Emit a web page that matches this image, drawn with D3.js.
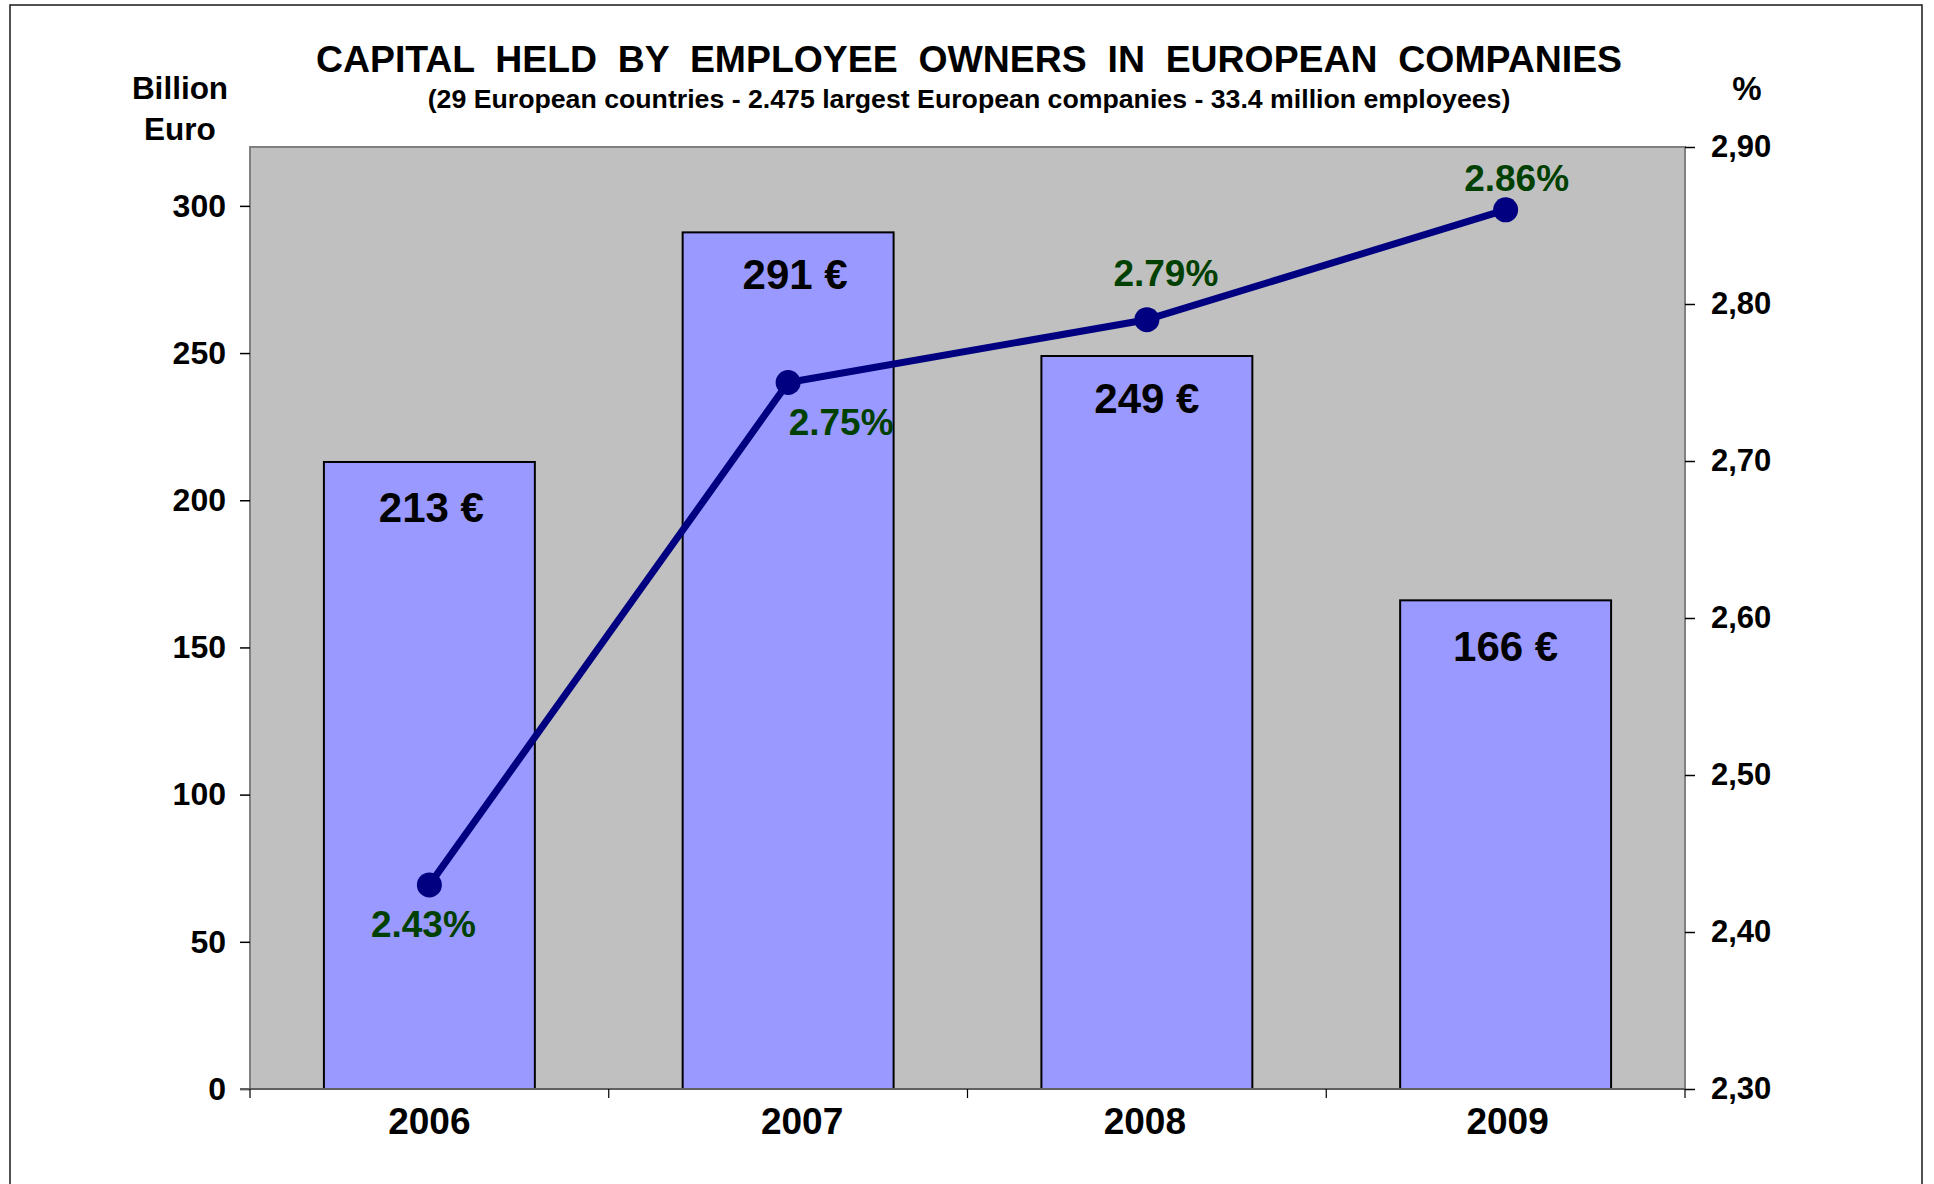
<!DOCTYPE html>
<html><head><meta charset="utf-8">
<script src="https://cdn.jsdelivr.net/npm/d3@7/dist/d3.min.js"></script>
<style>
html,body{margin:0;padding:0;background:#fff;}
svg{display:block;font-family:"Liberation Sans",Arial,sans-serif;font-weight:bold;}
</style></head>
<body>
<svg id="chart" width="1934" height="1184"></svg>
<script>
const years = ["2006","2007","2008","2009"];
const capital = [213, 291, 249, 166];
const share = [2.43, 2.75, 2.79, 2.86];
const capitalLabels = ["213 €","291 €","249 €","166 €"];
const shareLabels = ["2.43%","2.75%","2.79%","2.86%"];
const leftTicks = [0,50,100,150,200,250,300];
const rightTicks = [2.30,2.40,2.50,2.60,2.70,2.80,2.90];
const titleText = "CAPITAL  HELD  BY  EMPLOYEE  OWNERS  IN  EUROPEAN  COMPANIES";
const subtitleText = "(29 European countries - 2.475 largest European companies - 33.4 million employees)";

// label placement offsets (style, not data)
const shareLabelOffsets = [[-6,52],[53,52],[19,-34],[11,-19]];
const barLabelOffsets = [[2,60],[7,57],[0,57],[0,61]];
const yearLabelOffsets = [0,14,-2,2];

const svg = d3.select("#chart");
const plot = {left:250, right:1685, top:147, bottom:1089};

// outer frame
svg.append("rect").attr("x",10).attr("y",5).attr("width",1912).attr("height",1200)
  .attr("fill","#fff").attr("stroke","#1a1a1a").attr("stroke-width",1.5);

const x = d3.scaleBand().domain(years).range([plot.left, plot.right])
  .paddingInner(0.412).paddingOuter(0.206);
const yL = d3.scaleLinear().domain([0,320]).range([plot.bottom, plot.top]);
const yR = d3.scaleLinear().domain([2.30,2.90]).range([plot.bottom, plot.top]);

// plot background
svg.append("rect").attr("x",plot.left).attr("y",plot.top)
  .attr("width",plot.right-plot.left).attr("height",plot.bottom-plot.top)
  .attr("fill","#C0C0C0").attr("stroke","#808080").attr("stroke-width",2);

// bars
svg.append("g").selectAll("rect").data(years).join("rect")
  .attr("x",d=>x(d)).attr("width",x.bandwidth())
  .attr("y",(d,i)=>yL(capital[i])).attr("height",(d,i)=>yL(0)-yL(capital[i]))
  .attr("fill","#9999FF").attr("stroke","#000").attr("stroke-width",2);

// bar labels
svg.append("g").selectAll("text").data(years).join("text")
  .attr("x",(d,i)=>x(d)+x.bandwidth()/2+barLabelOffsets[i][0])
  .attr("y",(d,i)=>yL(capital[i])+barLabelOffsets[i][1])
  .attr("text-anchor","middle").attr("font-size",42).attr("fill","#000")
  .text((d,i)=>capitalLabels[i]);

// left axis
const axL = svg.append("g").attr("transform",`translate(${plot.left},0)`)
  .call(d3.axisLeft(yL).tickValues(leftTicks).tickSize(10).tickSizeOuter(0).tickPadding(14));
axL.select(".domain").remove();
axL.selectAll(".tick line").attr("stroke","#000").attr("stroke-width",1.5);
axL.selectAll(".tick text").attr("font-size",32).attr("font-family","Liberation Sans, Arial, sans-serif")
  .attr("font-weight","bold").attr("fill","#000");

// right axis
const fmtR = d => d3.format(".2f")(d).replace(".",",");
const axR = svg.append("g").attr("transform",`translate(${plot.right},0)`)
  .call(d3.axisRight(yR).tickValues(rightTicks).tickFormat(fmtR).tickSize(10).tickSizeOuter(0).tickPadding(16));
axR.select(".domain").remove();
axR.selectAll(".tick line").attr("stroke","#000").attr("stroke-width",1.5);
axR.selectAll(".tick text").attr("font-size",31).attr("font-family","Liberation Sans, Arial, sans-serif")
  .attr("font-weight","bold").attr("fill","#000");

// x axis (category boundary ticks)
const step = x.step();
const bounds = d3.range(years.length+1).map(i=>plot.left + i*step);
svg.append("line").attr("x1",plot.left-10).attr("x2",plot.right).attr("y1",plot.bottom).attr("y2",plot.bottom)
  .attr("stroke","#606060").attr("stroke-width",2);
svg.append("g").selectAll("line").data(bounds).join("line")
  .attr("x1",d=>d).attr("x2",d=>d).attr("y1",plot.bottom).attr("y2",plot.bottom+9)
  .attr("stroke","#000").attr("stroke-width",1.2);
svg.append("g").selectAll("text").data(years).join("text")
  .attr("x",(d,i)=>x(d)+x.bandwidth()/2+yearLabelOffsets[i]).attr("y",plot.bottom+45)
  .attr("text-anchor","middle").attr("font-size",37).attr("fill","#000").text(d=>d);

// line
const line = d3.line().x((d,i)=>x(years[i])+x.bandwidth()/2).y(d=>yR(d));
svg.append("path").datum(share).attr("d",line)
  .attr("fill","none").attr("stroke","#000080").attr("stroke-width",7).attr("stroke-linejoin","round");
svg.append("g").selectAll("circle").data(share).join("circle")
  .attr("cx",(d,i)=>x(years[i])+x.bandwidth()/2).attr("cy",d=>yR(d)).attr("r",12.5)
  .attr("fill","#000080");
svg.append("g").selectAll("text").data(share).join("text")
  .attr("x",(d,i)=>x(years[i])+x.bandwidth()/2+shareLabelOffsets[i][0])
  .attr("y",(d,i)=>yR(d)+shareLabelOffsets[i][1])
  .attr("text-anchor","middle").attr("font-size",37).attr("fill","#004000")
  .text((d,i)=>shareLabels[i]);

// titles
svg.append("text").attr("x",969).attr("y",71.5).attr("text-anchor","middle")
  .attr("font-size",37.4).attr("fill","#000").style("white-space","pre").text(titleText);
svg.append("text").attr("x",969).attr("y",107.5).attr("text-anchor","middle")
  .attr("font-size",26.7).attr("fill","#000").text(subtitleText);
svg.append("text").attr("x",180).attr("y",98.5).attr("text-anchor","middle")
  .attr("font-size",31.5).attr("fill","#000").text("Billion");
svg.append("text").attr("x",180).attr("y",139.5).attr("text-anchor","middle")
  .attr("font-size",31.5).attr("fill","#000").text("Euro");
svg.append("text").attr("x",1747).attr("y",100).attr("text-anchor","middle")
  .attr("font-size",33).attr("fill","#000").text("%");
</script>
</body></html>
